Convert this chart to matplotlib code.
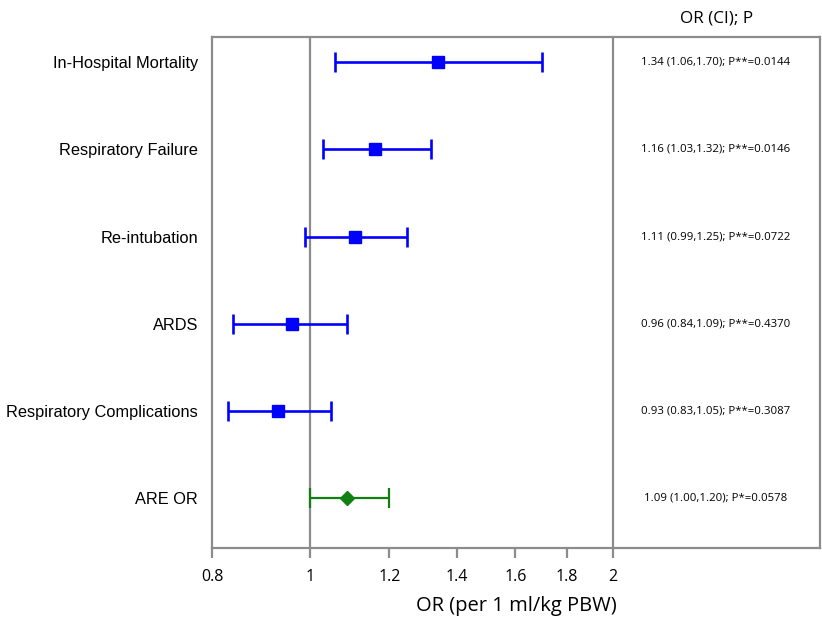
import matplotlib.pyplot as plt
import numpy as np

# outcomes, top to bottom
outcomes = ['In-Hospital Mortality', 'Respiratory Failure', 'Re-intubation',
            'ARDS', 'Respiratory Complications', 'ARE OR']
odds = [1.34, 1.16, 1.11, 0.96, 0.93, 1.09]
ci_low = [1.06, 1.03, 0.99, 0.84, 0.83, 1.00]
ci_high = [1.70, 1.32, 1.25, 1.09, 1.05, 1.20]
p_text = ['P**=0.0144', 'P**=0.0146', 'P**=0.0722', 'P**=0.4370', 'P**=0.3087', 'P*=0.0578']
xticks = [0.8, 1, 1.2, 1.4, 1.6, 1.8, 2]

plt.rcParams['font.family'] = ['Liberation Sans', 'DejaVu Sans']

fig = plt.figure(figsize=(8.22, 6.17), dpi=100)
ax = fig.add_axes([0.258, 0.112, 0.7396, 0.828])

n = len(outcomes)
ypos = np.arange(n, 0, -1)
grey = '#8c8c8c'

for i in range(n):
    is_total = (i == n - 1)
    col = '#108010' if is_total else '#0000ff'
    mk = 'D' if is_total else 's'
    ms = 7.5 if is_total else 8.5
    lw = 1.6 if is_total else 1.9
    ax.errorbar(odds[i], ypos[i],
                xerr=[[odds[i] - ci_low[i]], [ci_high[i] - odds[i]]],
                fmt=mk, color=col, ms=ms, lw=lw,
                capsize=7, capthick=lw, zorder=3)
    # OR (CI); P column on the right
    ax.text(2.53, ypos[i], '%.2f (%.2f,%.2f); %s' % (odds[i], ci_low[i], ci_high[i], p_text[i]),
            ha='center', va='center', fontsize=8.2, family='Open Sans')

ax.axvline(1, color=grey, lw=1.6, zorder=1)
ax.axvline(2, color=grey, lw=1.6, zorder=1)

ax.set_xscale('log')
ax.set_xlim(0.8, 3.21)
ax.set_ylim(0.43, 6.29)
ax.set_xticks(xticks)
ax.set_xticklabels(['0.8', '1', '1.2', '1.4', '1.6', '1.8', '2'])
ax.xaxis.set_minor_locator(plt.NullLocator())
ax.set_yticks(ypos)
ax.set_yticklabels(outcomes)
ax.tick_params(axis='y', length=0, pad=10, labelsize=11.8)
ax.tick_params(axis='x', length=7, width=1.6, color=grey, labelsize=11.5, pad=8)
for lbl in ax.get_xticklabels():
    lbl.set_family('Open Sans')

for s in ax.spines.values():
    s.set_color(grey)
    s.set_linewidth(1.6)

ax.set_xlabel('OR (per 1 ml/kg PBW)', fontsize=14.5, family='Open Sans', labelpad=8)
fig.text(0.872, 0.97, 'OR (CI); P', ha='center', va='center', fontsize=12.3, family='Open Sans')

fig.savefig('out.png', dpi=100)
